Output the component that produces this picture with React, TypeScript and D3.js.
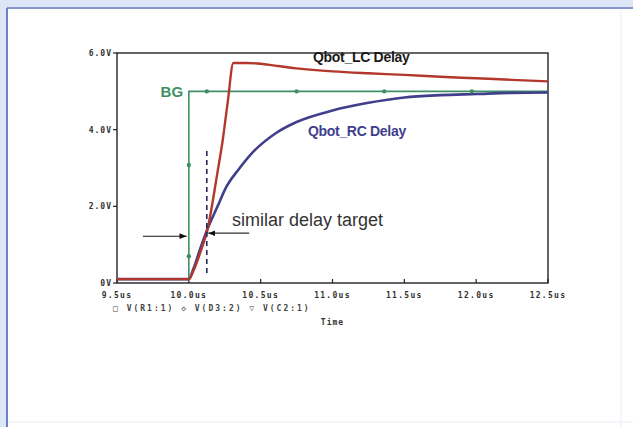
import React from "react";
import * as d3 from "d3";

// ---- data (time in us, voltage in V) ----
const lcTime = [9.5, 10.0, 10.03, 10.08, 10.127, 10.2, 10.236, 10.27, 10.31, 10.4, 10.5, 10.6, 10.75, 11.0, 11.25, 11.5, 11.75, 12.0, 12.25, 12.5];
const lcVolt = [0.1, 0.1, 0.3, 0.8, 1.35, 2.9, 3.73, 4.7, 5.74, 5.74, 5.72, 5.67, 5.6, 5.52, 5.47, 5.43, 5.38, 5.34, 5.3, 5.26];

const rcTime = [9.5, 10.0, 10.03, 10.08, 10.127, 10.2, 10.26, 10.35, 10.43, 10.61, 10.75, 11.0, 11.25, 11.5, 11.75, 12.0, 12.25, 12.5];
const rcVolt = [0.1, 0.1, 0.35, 0.9, 1.38, 2.0, 2.5, 2.98, 3.35, 3.92, 4.2, 4.5, 4.7, 4.84, 4.9, 4.93, 4.96, 4.97];

const bgTime = [9.5, 10.0, 10.0, 12.5];
const bgVolt = [0.1, 0.1, 5.0, 5.0];

const bgMarkTime = [10.0, 10.0, 10.125, 10.75, 11.36, 11.97];
const bgMarkVolt = [0.7, 3.08, 5.0, 5.0, 5.0, 5.0];

const xTicks = [9.5, 10.0, 10.5, 11.0, 11.5, 12.0, 12.5];
const xTickLabels = ["9.5us", "10.0us", "10.5us", "11.0us", "11.5us", "12.0us", "12.5us"];
const yTicks = [0, 2, 4, 6];
const yTickLabels = ["0V", "2.0V", "4.0V", "6.0V"];

const legendText = "\u25A1 V(R1:1)  \u25C7 V(D3:2)  \u25BD V(C2:1)";
const xAxisTitle = "Time";

const labelLC = "Qbot_LC Delay";
const labelRC = "Qbot_RC Delay";
const labelBG = "BG";
const labelTarget = "similar delay target";

// annotation anchors (data coords)
const dashT = 10.125;
const dashV = [0.26, 3.55];
const arrowLeft = { from: 9.68, to: 9.985, v: 1.22 };
const arrowRight = { from: 10.42, to: 10.135, v: 1.3 };

export default function App() {
  const W = 633, H = 427;
  const x = d3.scaleLinear().domain([9.5, 12.5]).range([117, 548]);
  const y = d3.scaleLinear().domain([0, 6]).range([283, 53]);

  const lineLin = d3
    .line<[number, number]>()
    .x((d) => x(d[0]))
    .y((d) => y(d[1]));
  const lineSmooth = d3
    .line<[number, number]>()
    .x((d) => x(d[0]))
    .y((d) => y(d[1]))
    .curve(d3.curveMonotoneX);

  const lc = lcTime.map((t, i) => [t, lcVolt[i]] as [number, number]);
  const rc = rcTime.map((t, i) => [t, rcVolt[i]] as [number, number]);
  const bg = bgTime.map((t, i) => [t, bgVolt[i]] as [number, number]);

  const red = "#b3372b";
  const blue = "#413e8c";
  const green = "#3d9062";
  const tickFont = "'DejaVu Sans Mono', monospace";

  return (
    <svg
      width={W}
      height={H}
      style={{ position: "absolute", left: 0, top: 0, background: "#fff" }}
    >
      <defs>
        <marker id="ah" viewBox="0 0 10 10" refX="10" refY="5" markerWidth="6" markerHeight="6" orient="auto-start-reverse">
          <path d="M0,1 L10,5 L0,9 z" fill="#111" />
        </marker>
      </defs>
      {/* frame */}
      <rect x={0} y={0} width={W} height={H} fill="#dde6f7" />
      <rect x={8} y={9} width={W - 8} height={H - 9} fill="#ffffff" />
      <line x1={7} y1={8} x2={W} y2={8} stroke="#8395cc" strokeWidth={2} />
      <line x1={7} y1={8} x2={7} y2={H} stroke="#6f7fc4" strokeWidth={2} />
      <line x1={621} y1={10} x2={621} y2={H} stroke="#eef2f9" strokeWidth={1.5} />
      <line x1={8} y1={422} x2={W} y2={422} stroke="#eef2f9" strokeWidth={1.5} />

      {/* plot box */}
      <rect x={x(9.5)} y={y(6)} width={x(12.5) - x(9.5)} height={y(0) - y(6)} fill="none" stroke="#222" strokeWidth={1.4} />

      {/* y ticks */}
      {yTicks.map((v, i) => (
        <g key={"y" + v}>
          <line x1={x(9.5) - 4} x2={x(9.5)} y1={y(v)} y2={y(v)} stroke="#222" strokeWidth={1.2} />
          <text x={x(9.5) - 5} y={y(v) + 3} textAnchor="end" fontFamily={tickFont} fontWeight="bold" fontSize={8} letterSpacing={1} fill="#333">
            {yTickLabels[i]}
          </text>
        </g>
      ))}
      {/* x ticks */}
      {xTicks.map((t, i) => (
        <g key={"x" + t}>
          <line x1={x(t)} x2={x(t)} y1={y(0)} y2={y(0) - 4} stroke="#222" strokeWidth={1.2} />
          <text x={x(t)} y={y(0) + 15} textAnchor="middle" fontFamily={tickFont} fontWeight="bold" fontSize={8} letterSpacing={1.3} fill="#333">
            {xTickLabels[i]}
          </text>
        </g>
      ))}
      <text x={113} y={311} fontFamily={tickFont} fontWeight="bold" fontSize={8} letterSpacing={2} fill="#444">
        {legendText}
      </text>
      <text x={x(11.0)} y={325} textAnchor="middle" fontFamily={tickFont} fontWeight="bold" fontSize={8} letterSpacing={1} fill="#333">
        {xAxisTitle}
      </text>

      {/* traces */}
      <path d={lineLin(bg) || ""} fill="none" stroke={green} strokeWidth={1.6} />
      <path d={lineSmooth(rc) || ""} fill="none" stroke={blue} strokeWidth={2.6} strokeLinejoin="round" />
      <path d={lineSmooth(lc) || ""} fill="none" stroke={red} strokeWidth={2.4} strokeLinejoin="round" />
      {bgMarkTime.map((t, i) => (
        <circle key={"m" + i} cx={x(t)} cy={y(bgMarkVolt[i])} r={2.2} fill={green} />
      ))}

      {/* dashed marker */}
      <line x1={x(dashT)} x2={x(dashT)} y1={y(dashV[0])} y2={y(dashV[1])} stroke="#222a55" strokeWidth={1.6} strokeDasharray="5,4" />

      {/* arrows */}
      <line x1={x(arrowLeft.from)} x2={x(arrowLeft.to)} y1={y(arrowLeft.v)} y2={y(arrowLeft.v)} stroke="#111" strokeWidth={1.2} markerEnd="url(#ah)" />
      <line x1={x(arrowRight.from)} x2={x(arrowRight.to)} y1={y(arrowRight.v)} y2={y(arrowRight.v)} stroke="#333" strokeWidth={1.2} markerEnd="url(#ah)" />

      {/* labels */}
      <text x={x(11.2)} y={y(5.9) + 5} textAnchor="middle" fontFamily="'Liberation Sans', Arial, sans-serif" fontWeight="bold" fontSize={14} letterSpacing={-0.3} fill="#1a1a1a">
        {labelLC}
      </text>
      <text x={x(11.17)} y={y(3.97) + 5} textAnchor="middle" fontFamily="'Liberation Sans', Arial, sans-serif" fontWeight="bold" fontSize={14} letterSpacing={-0.3} fill={blue}>
        {labelRC}
      </text>
      <text x={x(9.96)} y={y(5.0) + 6} textAnchor="end" fontFamily="'Liberation Sans', Arial, sans-serif" fontWeight="bold" fontSize={15} fill={green}>
        {labelBG}
      </text>
      <text x={x(10.3)} y={y(1.64) + 6} fontFamily="'Liberation Sans', Arial, sans-serif" fontSize={18} fill="#333">
        {labelTarget}
      </text>
    </svg>
  );
}
